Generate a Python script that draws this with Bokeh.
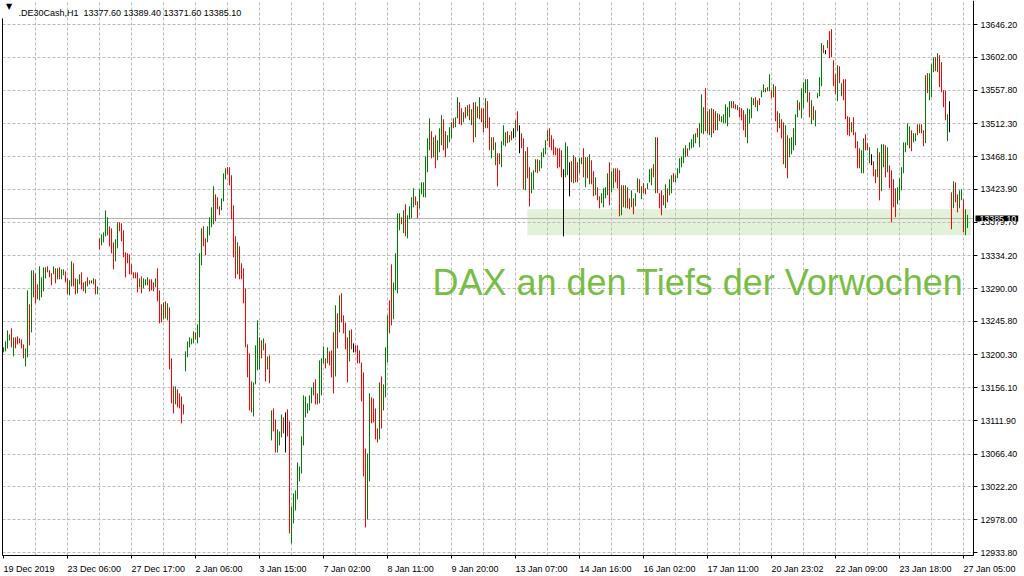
from bokeh.plotting import figure
from bokeh.models import Range1d, FixedTicker, BoxAnnotation, Label, NumeralTickFormatter, ColumnDataSource
from bokeh.embed import file_html
from bokeh.resources import INLINE

# ---------------- data ----------------
symbol = ".DE30Cash,H1"
last_open, last_high, last_low, last_close = 13377.60, 13389.40, 13371.60, 13385.10

bar_high = [
    13210.6, 13218.7, 13233.5, 13228.1, 13236.2, 13224.1, 13224.1, 13225.4, 13222.7, 13221.4,
    13214.6, 13209.2, 13287.5, 13268.6, 13314.5, 13314.5, 13310.5, 13295.6, 13319.9, 13305.1,
    13318.6, 13318.6, 13319.9, 13314.5, 13310.5, 13319.9, 13317.2, 13317.2, 13318.6, 13315.9,
    13315.9, 13313.2, 13303.7, 13301.0, 13326.7, 13324.0, 13303.7, 13302.4, 13309.1, 13311.8,
    13298.3, 13299.7, 13305.1, 13301.0, 13301.0, 13303.7, 13302.4, 13292.9, 13357.7, 13363.1,
    13365.8, 13395.5, 13386.1, 13373.9, 13371.2, 13352.3, 13356.4, 13379.3, 13379.3, 13378.0,
    13368.5, 13338.8, 13337.5, 13336.1, 13322.6, 13311.8, 13311.8, 13311.8, 13303.7, 13306.4,
    13303.7, 13302.4, 13305.1, 13302.4, 13302.4, 13298.3, 13303.7, 13317.2, 13287.5, 13268.6,
    13271.3, 13272.7, 13270.0, 13264.6, 13195.7, 13157.9, 13157.9, 13153.9, 13148.5, 13144.4,
    13133.6, 13205.2, 13218.7, 13224.1, 13222.7, 13232.2, 13230.8, 13241.6, 13337.5, 13371.2,
    13373.9, 13357.7, 13373.9, 13386.1, 13399.6, 13427.9, 13417.1, 13413.1, 13400.9, 13411.7,
    13445.5, 13452.2, 13453.6, 13453.6, 13442.8, 13402.3, 13360.4, 13352.3, 13346.9, 13324.0,
    13317.2, 13290.2, 13214.6, 13202.5, 13164.7, 13163.3, 13213.3, 13247.0, 13224.1, 13220.0,
    13222.7, 13216.0, 13198.4, 13199.8, 13125.5, 13128.2, 13113.4, 13099.9, 13097.2, 13120.1,
    13116.1, 13122.8, 13126.9, 13110.7, 12995.9, 13013.5, 13017.5, 13055.3, 13049.9, 13090.4,
    13145.8, 13144.4, 13135.0, 13145.8, 13156.6, 13163.3, 13167.4, 13148.5, 13193.0, 13195.7,
    13211.9, 13195.7, 13210.6, 13205.2, 13206.5, 13230.8, 13267.3, 13256.5, 13280.8, 13283.5,
    13253.8, 13244.3, 13224.1, 13233.5, 13234.9, 13216.0, 13213.3, 13213.3, 13206.5, 13190.3,
    13176.8, 13074.2, 13067.5, 13148.5, 13143.1, 13141.7, 13128.2, 13101.2, 13163.3, 13171.4,
    13160.6, 13210.6, 13253.8, 13274.0, 13322.6, 13298.3, 13337.5, 13391.5, 13391.5, 13386.1,
    13395.5, 13403.6, 13388.8, 13400.9, 13413.1, 13425.2, 13414.4, 13407.7, 13423.9, 13433.3,
    13433.3, 13468.4, 13492.7, 13519.7, 13502.2, 13494.1, 13496.8, 13490.0, 13506.2, 13523.8,
    13518.4, 13502.2, 13496.8, 13507.6, 13514.3, 13519.7, 13521.1, 13548.1, 13541.3, 13533.2,
    13527.8, 13534.6, 13537.3, 13538.6, 13531.9, 13541.3, 13541.3, 13535.9, 13548.1, 13533.2,
    13533.2, 13546.7, 13542.7, 13521.1, 13494.1, 13494.1, 13487.3, 13472.5, 13472.5, 13488.7,
    13510.3, 13500.8, 13502.2, 13496.8, 13502.2, 13506.2, 13517.0, 13529.2, 13510.3, 13499.5,
    13492.7, 13475.2, 13480.6, 13453.6, 13446.8, 13449.5, 13464.4, 13464.4, 13463.0, 13473.8,
    13479.2, 13490.0, 13503.5, 13506.2, 13496.8, 13491.4, 13480.6, 13479.2, 13479.2, 13476.5,
    13450.9, 13487.3, 13481.9, 13460.3, 13461.7, 13469.8, 13467.1, 13460.3, 13465.7, 13467.1,
    13479.2, 13467.1, 13467.1, 13471.1, 13463.0, 13448.2, 13440.1, 13426.6, 13414.4, 13418.5,
    13425.2, 13426.6, 13445.5, 13460.3, 13448.2, 13452.2, 13452.2, 13452.2, 13449.5, 13429.3,
    13429.3, 13429.3, 13426.6, 13411.7, 13422.5, 13411.7, 13418.5, 13438.7, 13437.4, 13427.9,
    13432.0, 13425.2, 13432.0, 13450.9, 13452.2, 13457.6, 13494.1, 13494.1, 13418.5, 13422.5,
    13415.8, 13430.6, 13425.2, 13437.4, 13442.8, 13445.5, 13442.8, 13452.2, 13465.7, 13468.4,
    13479.2, 13483.3, 13479.2, 13487.3, 13491.4, 13498.1, 13499.5, 13506.2, 13513.0, 13552.1,
    13534.6, 13560.2, 13529.2, 13531.9, 13533.2, 13531.9, 13529.2, 13526.5, 13525.1, 13522.4,
    13525.1, 13538.6, 13534.6, 13542.7, 13542.7, 13542.7, 13538.6, 13537.3, 13534.6, 13533.2,
    13530.5, 13525.1, 13533.2, 13531.9, 13548.1, 13546.7, 13548.1, 13544.0, 13546.7, 13557.5,
    13565.6, 13560.2, 13561.6, 13579.1, 13557.5, 13565.6, 13562.9, 13529.2, 13526.5, 13518.4,
    13514.3, 13510.3, 13496.8, 13492.7, 13494.1, 13506.2, 13525.1, 13544.0, 13541.3, 13560.2,
    13568.3, 13572.4, 13572.4, 13554.8, 13544.0, 13535.9, 13530.5, 13553.5, 13575.1, 13621.0,
    13618.3, 13611.5, 13625.0, 13637.2, 13639.9, 13598.0, 13579.1, 13591.3, 13589.9, 13567.0,
    13572.4, 13572.4, 13522.4, 13521.1, 13514.3, 13521.1, 13500.8, 13488.7, 13479.2, 13476.5,
    13492.7, 13498.1, 13486.0, 13480.6, 13471.1, 13461.7, 13450.9, 13479.2, 13473.8, 13484.6,
    13484.6, 13483.3, 13480.6, 13456.3, 13449.5, 13437.4, 13425.2, 13426.6, 13438.7, 13453.6,
    13487.3, 13487.3, 13513.0, 13508.9, 13503.5, 13499.5, 13499.5, 13511.6, 13511.6, 13511.6,
    13503.5, 13577.8, 13580.5, 13580.5, 13592.6, 13602.1, 13602.1, 13607.5, 13604.8, 13595.3,
    13557.5, 13557.5, 13525.1, 13542.7, 13419.8, 13434.7, 13433.3, 13417.1, 13422.5, 13423.9,
    13410.4, 13396.9, last_high,
]

bar_low = [
    13203.8, 13205.2, 13209.2, 13220.0, 13210.6, 13198.4, 13209.2, 13214.6, 13216.0, 13209.2,
    13195.7, 13184.9, 13197.1, 13213.3, 13230.8, 13278.1, 13270.0, 13275.4, 13274.0, 13278.1,
    13286.2, 13303.7, 13311.8, 13305.1, 13294.3, 13309.1, 13297.0, 13302.4, 13302.4, 13302.4,
    13307.8, 13298.3, 13282.1, 13280.8, 13292.9, 13292.9, 13282.1, 13283.5, 13295.6, 13288.9,
    13286.2, 13283.5, 13292.9, 13295.6, 13297.0, 13295.6, 13282.1, 13282.1, 13342.9, 13348.3,
    13352.3, 13360.4, 13361.8, 13346.9, 13337.5, 13315.9, 13326.7, 13344.2, 13367.2, 13353.7,
    13332.1, 13305.1, 13324.0, 13309.1, 13309.1, 13303.7, 13303.7, 13284.8, 13291.6, 13283.5,
    13290.2, 13294.3, 13294.3, 13286.2, 13287.5, 13286.2, 13291.6, 13272.7, 13243.0, 13244.3,
    13248.4, 13249.7, 13247.0, 13180.9, 13135.0, 13121.5, 13133.6, 13129.6, 13128.2, 13108.0,
    13120.1, 13178.2, 13197.1, 13210.6, 13214.6, 13216.0, 13221.4, 13216.0, 13224.1, 13321.3,
    13346.9, 13334.8, 13352.3, 13361.8, 13372.6, 13376.6, 13380.7, 13396.9, 13388.8, 13395.5,
    13407.7, 13437.4, 13444.1, 13429.3, 13383.4, 13332.1, 13303.7, 13309.1, 13302.4, 13302.4,
    13270.0, 13210.6, 13170.1, 13125.5, 13122.8, 13117.4, 13160.6, 13179.5, 13180.9, 13195.7,
    13206.5, 13164.7, 13180.9, 13162.0, 13085.0, 13097.2, 13068.8, 13068.8, 13078.3, 13089.1,
    13094.5, 13068.8, 13090.4, 12959.5, 12946.0, 12973.0, 12990.5, 13005.4, 13029.7, 13040.5,
    13078.3, 13116.1, 13121.5, 13125.5, 13135.0, 13145.8, 13133.6, 13133.6, 13135.0, 13145.8,
    13189.0, 13182.2, 13189.0, 13186.3, 13170.1, 13148.5, 13171.4, 13209.2, 13230.8, 13244.3,
    13229.5, 13207.9, 13163.3, 13191.7, 13207.9, 13203.8, 13203.8, 13189.0, 13189.0, 13137.7,
    13036.4, 12967.6, 12978.4, 13029.7, 13108.0, 13109.3, 13086.4, 13082.3, 13086.4, 13101.2,
    13125.5, 13143.1, 13190.3, 13229.5, 13240.3, 13248.4, 13287.5, 13283.5, 13368.5, 13376.6,
    13364.5, 13360.4, 13357.7, 13383.4, 13384.7, 13399.6, 13402.3, 13384.7, 13398.2, 13417.1,
    13413.1, 13413.1, 13446.8, 13476.5, 13465.7, 13467.1, 13452.2, 13463.0, 13473.8, 13483.3,
    13476.5, 13467.1, 13479.2, 13487.3, 13492.7, 13506.2, 13507.6, 13519.7, 13511.6, 13510.3,
    13514.3, 13519.7, 13522.4, 13517.0, 13510.3, 13487.3, 13494.1, 13519.7, 13518.4, 13514.3,
    13500.8, 13506.2, 13506.2, 13476.5, 13465.7, 13476.5, 13456.3, 13427.9, 13457.6, 13453.6,
    13483.3, 13481.9, 13486.0, 13487.3, 13490.0, 13492.7, 13494.1, 13502.2, 13472.5, 13479.2,
    13423.9, 13422.5, 13438.7, 13400.9, 13418.5, 13423.9, 13446.8, 13445.5, 13448.2, 13452.2,
    13467.1, 13471.1, 13488.7, 13480.6, 13476.5, 13469.8, 13469.8, 13452.2, 13453.6, 13440.1,
    13360.4, 13440.1, 13442.8, 13414.4, 13433.3, 13432.0, 13433.3, 13433.3, 13445.5, 13457.6,
    13440.1, 13426.6, 13438.7, 13430.6, 13430.6, 13414.4, 13415.8, 13409.0, 13398.2, 13405.0,
    13399.6, 13411.7, 13415.8, 13402.3, 13419.8, 13425.2, 13433.3, 13425.2, 13387.4, 13388.8,
    13399.6, 13398.2, 13398.2, 13396.9, 13399.6, 13390.1, 13400.9, 13419.8, 13418.5, 13410.4,
    13418.5, 13417.1, 13423.9, 13433.3, 13429.3, 13440.1, 13418.5, 13418.5, 13398.2, 13388.8,
    13402.3, 13398.2, 13406.3, 13415.8, 13418.5, 13433.3, 13433.3, 13438.7, 13445.5, 13453.6,
    13459.0, 13467.1, 13468.4, 13476.5, 13479.2, 13480.6, 13486.0, 13494.1, 13480.6, 13499.5,
    13498.1, 13502.2, 13499.5, 13496.8, 13494.1, 13499.5, 13503.5, 13503.5, 13515.7, 13514.3,
    13513.0, 13513.0, 13508.9, 13521.1, 13533.2, 13533.2, 13531.9, 13530.5, 13521.1, 13517.0,
    13503.5, 13494.1, 13486.0, 13513.0, 13519.7, 13537.3, 13534.6, 13529.2, 13537.3, 13548.1,
    13554.8, 13554.8, 13556.2, 13556.2, 13546.7, 13548.1, 13515.7, 13500.8, 13506.2, 13492.7,
    13457.6, 13452.2, 13438.7, 13467.1, 13471.1, 13476.5, 13483.3, 13521.1, 13530.5, 13519.7,
    13533.2, 13553.5, 13541.3, 13521.1, 13511.6, 13517.0, 13508.9, 13546.7, 13549.4, 13562.9,
    13607.5, 13606.1, 13614.2, 13600.7, 13602.1, 13562.9, 13552.1, 13542.7, 13567.0, 13549.4,
    13544.0, 13518.4, 13496.8, 13495.4, 13500.8, 13496.8, 13479.2, 13452.2, 13452.2, 13445.5,
    13445.5, 13476.5, 13476.5, 13459.0, 13456.3, 13441.4, 13432.0, 13440.1, 13409.0, 13421.2,
    13453.6, 13440.1, 13446.8, 13425.2, 13379.3, 13399.6, 13386.1, 13403.6, 13409.0, 13422.5,
    13445.5, 13473.8, 13483.3, 13479.2, 13475.2, 13487.3, 13488.7, 13496.8, 13499.5, 13499.5,
    13481.9, 13486.0, 13553.5, 13544.0, 13548.1, 13581.8, 13583.2, 13581.8, 13561.6, 13554.8,
    13534.6, 13517.0, 13488.7, 13500.8, 13369.9, 13398.2, 13406.3, 13392.8, 13398.2, 13409.0,
    13365.8, 13361.8, last_low,
]

# bar direction: g = close above open, r = close below open, k = unchanged
bar_dir = list(
    "ggggrgrrrr" "rggrggrrgg" "ggrrrgrgrg" "grrggrrggr" "rgrgrgrgrg"
    "gggrrrggrr" "rrrrrrrrgr" "gggrrrgrrr" "grgrrrgrrr" "rgggggrggg"
    "rrggggrrrg" "ggrrrrrgrr" "rrrrrggggr" "grgrgrrggg" "rkrrgggggg"
    "ggggggrrgg" "grgrrrgrgr" "rrrgrkrrrr" "rrggrrrrgr" "gggrrggggr"
    "grggggrrgg" "ggggrgrggg" "rrgggrggrr" "grgrgrgrgr" "rgrrgrgrrg"
    "ggrgrkgrkr" "rgrrgggrgg" "gggrrrrrrr" "kggkrgrrgg" "rgrgrrgrrg"
    "gggrggrrrg" "rgrrgrggrg" "rrgggrgrrr" "rgrggrgggg" "ggrggggrgg"
    "grgrgrrgrg" "gggggrrgrr" "rrggggrgrg" "grggrgrrgr" "rgrgggggrg"
    "gggrgrgggg" "rkgrrrrgrg" "rrrrgrrrrg" "grrgkrrgrg" "grgrrrrggg"
    "ggggrggrgr" "rgrgggrgrr" "rrgkrgrrgg" "rgg"
)

time_tick_index = [0, 32, 64, 96, 128, 160, 192, 224, 256, 288, 320, 352, 384, 416, 448, 480]
time_tick_labels = ["19 Dec 2019", "23 Dec 06:00", "27 Dec 17:00", "2 Jan 06:00", "3 Jan 15:00",
                    "7 Jan 02:00", "8 Jan 11:00", "9 Jan 20:00", "13 Jan 07:00", "14 Jan 16:00",
                    "16 Jan 02:00", "17 Jan 11:00", "20 Jan 23:02", "22 Jan 09:00", "23 Jan 18:00",
                    "27 Jan 05:00"]
grid_bar_step = 16

price_ticks = [12933.80, 12978.00, 13022.20, 13066.40, 13111.90, 13156.10, 13200.30, 13245.80,
               13290.00, 13334.20, 13379.70, 13423.90, 13468.10, 13512.30, 13557.80, 13602.00, 13646.20]

zone_first_bar, zone_last_bar = 261.9, 483.7
zone_top, zone_bottom = 13396.9, 13361.8

note_text = "DAX an den Tiefs der Vorwochen"
note_bar, note_price = 214.5, 13298.7

# ---------------- layout (canvas pixels) ----------------
W, H = 1024, 576
PX_PER_BAR = 2.0
x_start = -1.5                       # bar i sits at canvas x = 3 + 2*i
x_end = x_start + W / PX_PER_BAR
ppu = (price_ticks[-1] - price_ticks[0]) / 528.0   # price units per pixel
y_end = price_ticks[-1] + 24 * ppu
y_start = y_end - H * ppu


def price_at(canvas_y):
    return y_end - canvas_y * ppu


def bar_at(canvas_x):
    return x_start + canvas_x / PX_PER_BAR


def snap(price):
    return price_at(round((y_end - price) / ppu))


left_edge = bar_at(2)
axis_bar = bar_at(973)               # right price-axis line
axis_price = price_at(555)           # bottom time-axis line

label_font = "Liberation Sans"
grid_color = "#bcbcbc"

p = figure(width=W, height=H, output_backend="svg", toolbar_location=None, title=None,
           x_range=Range1d(x_start, x_end), y_range=Range1d(y_start, y_end),
           y_axis_location="right", min_border_left=0, min_border_top=0,
           min_border_bottom=0, min_border_right=0)
p.outline_line_color = None
p.background_fill_color = "white"
p.border_fill_color = "white"
p.xgrid.visible = False
p.ygrid.visible = False

# right price axis, drawn at a fixed position inside the canvas
ya = p.yaxis[0]
ya.fixed_location = axis_bar
ya.bounds = (axis_price, y_end)
ya.ticker = FixedTicker(ticks=price_ticks)
ya.formatter = NumeralTickFormatter(format="0.00")
ya.axis_line_color = "black"
ya.major_tick_line_color = "black"
ya.major_tick_out = 4
ya.major_tick_in = 0
ya.minor_tick_out = 0
ya.minor_tick_in = 0
ya.major_label_standoff = 3
ya.major_label_text_font = label_font
ya.major_label_text_font_size = "8.8px"
ya.major_label_text_color = "black"

# bottom time axis
xa = p.xaxis[0]
xa.fixed_location = axis_price
xa.bounds = (left_edge, axis_bar)
xa.ticker = FixedTicker(ticks=time_tick_index)
xa.axis_line_color = "black"
xa.major_tick_line_color = "black"
xa.major_tick_out = 3
xa.major_tick_in = 0
xa.minor_tick_out = 0
xa.minor_tick_in = 0
xa.major_label_text_color = None

# support zone
p.add_layout(BoxAnnotation(left=zone_first_bar, right=zone_last_bar, top=zone_top, bottom=zone_bottom,
                           fill_color="#e2f1d8", fill_alpha=1.0, line_color=None, level="image"))

# dashed grid
h_grid = [snap(t) for t in price_ticks]
v_grid = list(range(grid_bar_step, len(bar_high), grid_bar_step))
p.segment(x0=left_edge, x1=axis_bar, y0=h_grid, y1=h_grid,
          line_color=grid_color, line_width=1, line_dash="3 2")
p.segment(x0=v_grid, x1=v_grid, y0=axis_price, y1=y_end,
          line_color=grid_color, line_width=1, line_dash="3 2")

# bid line
bid_y = snap(last_close)
p.segment(x0=[left_edge], x1=[axis_bar], y0=[bid_y], y1=[bid_y], line_color="#b4b4b4", line_width=1)

# bars
colour_of = {"g": "#008000", "r": "#ff0000", "k": "#000000"}
src = ColumnDataSource(dict(
    x=list(range(len(bar_high))),
    hi=bar_high,
    lo=bar_low,
    c=[colour_of[d] for d in bar_dir],
))
p.segment(x0="x", y0="lo", x1="x", y1="hi", line_color="c", line_width=1, source=src)

# left border
p.segment(x0=[left_edge], x1=[left_edge], y0=[axis_price], y1=[price_at(18)], line_color="black", line_width=1)

# time labels, left-aligned at their ticks
for idx, txt in zip(time_tick_index, time_tick_labels):
    p.add_layout(Label(x=idx, y=price_at(568), text=txt, text_font=label_font, text_font_size="9px",
                       text_color="black", text_align="left", text_baseline="alphabetic"))

# header
p.add_layout(Label(x=bar_at(8.5), y=price_at(5.5), text="\u25bc", text_font="DejaVu Sans",
                   text_font_size="8px", text_color="black", text_align="center", text_baseline="middle"))
header = f"{symbol}\u00a0 {last_open:.2f} {last_high:.2f} {last_low:.2f} {last_close:.2f}"
p.add_layout(Label(x=bar_at(18), y=price_at(12.5), text=header, text_font=label_font, text_font_size="9px",
                   text_color="black", text_align="left", text_baseline="alphabetic"))

# current price box on the axis
p.add_layout(Label(x=bar_at(975), y=bid_y, text=f"{last_close:.2f}", text_font=label_font,
                   text_font_size="8.8px", text_color="white", text_align="left", text_baseline="middle",
                   background_fill_color="black", background_fill_alpha=1.0,
                   padding=dict(left=4, right=2, top=0, bottom=0)))

# annotation text
p.add_layout(Label(x=note_bar, y=note_price, text=note_text, text_font=label_font,
                   text_font_size="36px", text_color="#78be45", text_align="left",
                   text_baseline="alphabetic"))

open("out.html", "w").write(file_html(p, INLINE))
